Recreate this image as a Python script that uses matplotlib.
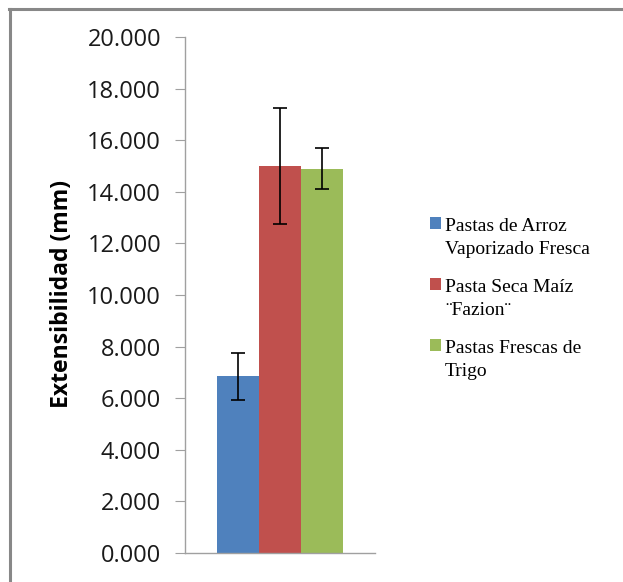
import matplotlib
matplotlib.use("Agg")
import matplotlib.pyplot as plt
from matplotlib.lines import Line2D
from matplotlib.patches import Rectangle
from matplotlib.container import BarContainer
from matplotlib.legend_handler import HandlerBase
from matplotlib.ticker import FuncFormatter, MultipleLocator

categories = ["Pastas de Arroz\nVaporizado Fresca", "Pasta Seca Maíz\n¨Fazion¨", "Pastas Frescas de\nTrigo"]
values = [6.85, 15.0, 14.9]
errors = [0.91, 2.26, 0.81]
colors = ["#4F81BD", "#C0504D", "#9BBB59"]
y_label = "Extensibilidad (mm)"

W, H, DPI = 623, 582, 100
fig = plt.figure(figsize=(W / DPI, H / DPI), dpi=DPI)

# axes in pixel coordinates
left, right, top, bottom = 185, 375, 37, 553
ax = fig.add_axes([left / W, 1 - bottom / H, (right - left) / W, (bottom - top) / H])

bar_w = 0.22
offsets = [-bar_w, 0, bar_w]
for i, (cat, v, e, c) in enumerate(zip(categories, values, errors, colors)):
    ax.bar(offsets[i], v, width=bar_w, color=c, edgecolor="none", label=cat, zorder=2)
    ax.errorbar(offsets[i], v, yerr=e, fmt="none", ecolor="black", elinewidth=1.2,
                capsize=4.8, capthick=1.2, zorder=3)

ax.set_xlim(-0.5, 0.5)
ax.set_ylim(0, 20)
ax.yaxis.set_major_locator(MultipleLocator(2))
ax.yaxis.set_major_formatter(FuncFormatter(lambda v, p: f"{v:.3f}"))
ax.set_xticks([])
for s in ["top", "right"]:
    ax.spines[s].set_visible(False)
for s in ["left", "bottom"]:
    ax.spines[s].set_color("#A0A0A0")
    ax.spines[s].set_linewidth(1)
ax.tick_params(axis="y", length=7.2, color="#A0A0A0", labelsize=17, pad=10, labelcolor="#1a1a1a")
for lab in ax.get_yticklabels():
    lab.set_family("Open Sans")

fig.text(62 / W, 1 - 294 / H, y_label, rotation=90, ha="center", va="center",
         fontsize=16.6, fontweight="bold", family="Open Sans", color="black")


class TopSquare(HandlerBase):
    def create_artists(self, legend, orig_handle, xdescent, ydescent, width, height, fontsize, trans):
        fc = orig_handle.patches[0].get_facecolor()
        p = Rectangle((-xdescent, -ydescent + 0.75 * fontsize), width, height,
                      facecolor=fc, edgecolor="none", transform=trans)
        return [p]


handles, labels = ax.get_legend_handles_labels()
leg = fig.legend(handles, labels, loc="upper left", bbox_to_anchor=(430 / W, 1 - 218 / H), frameon=False,
                 prop={"family": "Liberation Serif", "size": 14}, handlelength=0.57,
                 handleheight=0.57, handletextpad=0.2, labelspacing=1.1, borderaxespad=0, borderpad=0,
                 handler_map={BarContainer: TopSquare()})
for t in leg.get_texts():
    t.set_linespacing(1.45)

# partial chart border (top and left)
fig.add_artist(Line2D([9 / W, 1], [1 - 9 / H, 1 - 9 / H], color="#888888", lw=2.2, transform=fig.transFigure))
fig.add_artist(Line2D([10 / W, 10 / W], [0, 1 - 9 / H], color="#888888", lw=2.2, transform=fig.transFigure))

fig.savefig("out.png", dpi=DPI)
